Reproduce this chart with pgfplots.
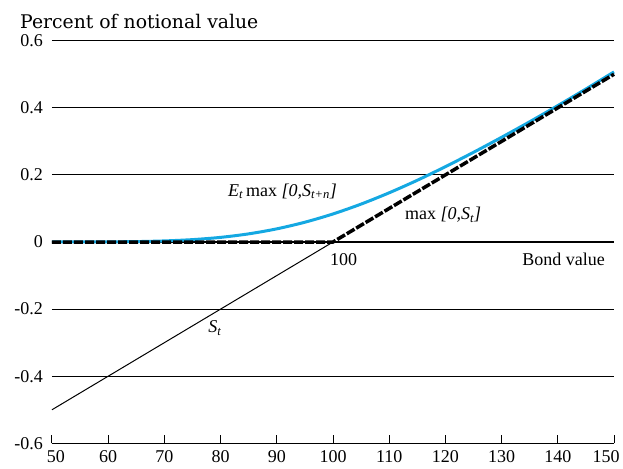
\documentclass[border=0pt]{standalone}
\usepackage{fontspec}
\setmainfont{Liberation Serif}
\newfontfamily\titlefont{DejaVu Serif}
\usepackage{pgfplots}
\pgfplotsset{compat=1.18}
\definecolor{cblue}{RGB}{20,168,226}
\begin{document}
\begin{tikzpicture}[x=1pt,y=1pt]
\begin{axis}[
  at={(0,0)}, anchor=south west,
  scale only axis, width=562pt, height=402.6pt,
  xmin=50, xmax=150, ymin=-0.6, ymax=0.6,
  axis x line*=bottom, axis y line*=left,
  y axis line style={draw=none},
  x axis line style={line width=1.2pt, -},
  xtick={50,60,70,80,90,100,110,120,130,140,150},
  xticklabels={{\hspace*{8pt}50},60,70,80,90,100,110,120,130,140,{\hspace*{-16pt}150}},
  ytick={-0.6,-0.4,-0.2,0,0.2,0.4,0.6},
  yticklabels={-0.6,-0.4,-0.2,0,0.2,0.4,0.6},
  xtick align=inside,
  major tick length=8pt,
  ytick style={draw=none},
  xtick style={black, line width=1pt},
  ymajorgrids, grid style={black, line width=1pt},
  tick label style={font=\fontsize{18}{20}\selectfont},
  yticklabel style={anchor=east, inner sep=0pt, xshift=-9pt},
  xticklabel style={anchor=north, inner sep=0pt, yshift=-7.5pt},
  clip=false,
]
\addplot[black, line width=2.4pt] coordinates {(50,0) (150,0)};
\addplot[cblue, line width=3pt, smooth] table {
x y
50 0.0000
55 0.0001
60 0.0004
65 0.0012
70 0.0032
75 0.0071
80 0.0138
85 0.0243
90 0.0392
95 0.0590
100 0.0836
105 0.1130
110 0.1467
115 0.1840
120 0.2245
125 0.2673
130 0.3121
135 0.3584
140 0.4065
145 0.4560
150 0.5070
};
\addplot[black, line width=1pt] coordinates {(50,-0.5) (100,0)};
\addplot[black, line width=3.5pt, dash pattern=on 9pt off 2pt] coordinates {(50,0) (100,0) (150,0.5)};
\node[anchor=base, font=\fontsize{18}{20}\selectfont, inner sep=0pt] at (axis cs:101.9,-0.069) {100};
\node[anchor=base east, font=\fontsize{18}{20}\selectfont, inner sep=0pt] at (axis cs:148.4,-0.069) {Bond value};
\node[anchor=base west, font=\fontsize{18}{20}\selectfont, inner sep=0pt] at (axis cs:77.8,-0.271) {\textit{S\textsubscript{t}}};
\node[anchor=base west, font=\fontsize{18}{20}\selectfont, inner sep=0pt] at (axis cs:81.3,0.137) {\textit{E\textsubscript{t}}\,max \textit{[0,S\textsubscript{t+n}]}};
\node[anchor=base west, font=\fontsize{18}{20}\selectfont, inner sep=0pt] at (axis cs:112.8,0.066) {max \textit{[0,S\textsubscript{t}]}};
\end{axis}
\node[anchor=base west, font=\titlefont\fontsize{18.8}{22}\selectfont, inner sep=0pt] at (-32,414.3) {Percent of notional value};
\pgfresetboundingbox
\path[use as bounding box] (-52,-24.7) rectangle (571,443.3);
\end{tikzpicture}
\end{document}
